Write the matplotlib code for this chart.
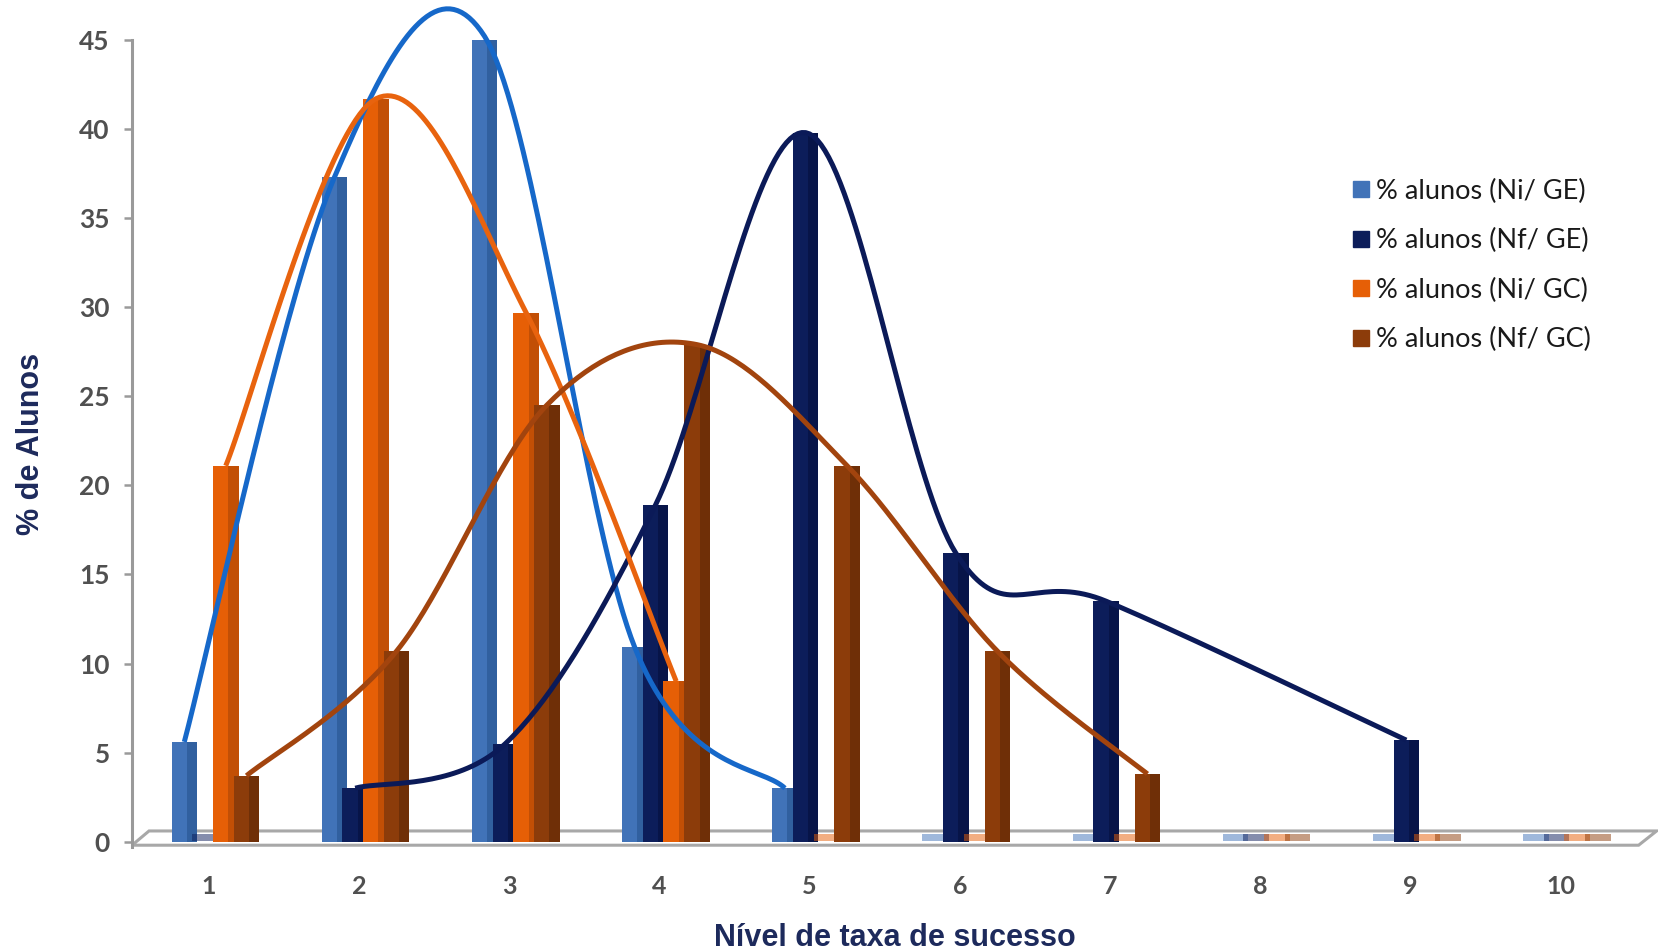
import numpy as np
import matplotlib
matplotlib.use("Agg")
import matplotlib.pyplot as plt
from matplotlib.lines import Line2D
from matplotlib.patches import Polygon

categories = [1, 2, 3, 4, 5, 6, 7, 8, 9, 10]
ni_ge = [5.6, 37.3, 45.2, 10.9, 3.0, 0, 0, 0, 0, 0]
nf_ge = [0, 3.0, 5.5, 18.9, 39.8, 16.2, 13.5, 0, 5.7, 0]
ni_gc = [21.1, 41.7, 29.7, 9.0, 0, 0, 0, 0, 0, 0]
nf_gc = [3.7, 10.7, 24.5, 27.9, 21.1, 10.7, 3.8, 0, 0, 0]
labels = ["% alunos (Ni/ GE)", "% alunos (Nf/ GE)", "% alunos (Ni/ GC)", "% alunos (Nf/ GC)"]
yticks = [0, 5, 10, 15, 20, 25, 30, 35, 40, 45]

series = [ni_ge, nf_ge, ni_gc, nf_gc]
front = ["#4173b8", "#0c1d5a", "#e65f06", "#8c3c0a"]
side = ["#31609f", "#071448", "#c24f05", "#6f2f07"]
line_col = ["#1668c9", "#0b1a58", "#e8630e", "#a2440e"]
offsets = [-0.165, -0.027, 0.111, 0.249]
W = 0.17


def excel_smooth(xs, ys, n=40):
    # bezier smoothing like the office "smoothed line" option
    p = np.column_stack([xs, ys]).astype(float)
    segs = []
    t = np.linspace(0, 1, n)[:, None]
    for i in range(len(p) - 1):
        p0 = p[i - 1] if i > 0 else p[i]
        p1, p2 = p[i], p[i + 1]
        p3 = p[i + 2] if i + 2 < len(p) else p[i + 1]
        c1 = p1 + (p2 - p0) / 6
        c2 = p2 - (p3 - p1) / 6
        segs.append((1 - t) ** 3 * p1 + 3 * (1 - t) ** 2 * t * c1
                    + 3 * (1 - t) * t ** 2 * c2 + t ** 3 * p2)
    return np.vstack(segs)


plt.rcParams['font.family'] = ['Lato', 'DejaVu Sans']
fig = plt.figure(figsize=(16.61, 9.52), dpi=100)
ax = fig.add_axes([0.0795, 0.1103, 0.9185, 0.8477])

x = np.array(categories, dtype=float)

# floor of the 3d plot
floor = Polygon([[0.487, -0.2], [0.60, 0.6], [10.64, 0.6], [10.52, -0.2]],
                closed=True, facecolor="white", edgecolor="#a8a8a8", lw=2.2, zorder=1)
ax.add_patch(floor)

for k, vals in enumerate(series):
    v = np.array(vals, dtype=float)
    pos = x + offsets[k]
    nz = v > 0
    # zero values show as flat tiles on the floor
    ax.bar(pos[~nz], np.full((~nz).sum(), 0.4), bottom=0.05, width=W,
           color=front[k], alpha=0.5, zorder=2 + k * 0.1)
    ax.bar(pos[nz], v[nz], width=W, color=front[k], zorder=2 + k * 0.1)
    ax.bar(pos[nz] + W / 2, v[nz], width=-0.4 * W, align='edge',
           color=side[k], zorder=2 + k * 0.1 + 0.01)

for k, vals in enumerate(series):
    v = np.array(vals, dtype=float)
    pos = x + offsets[k]
    nz = v > 0
    c = excel_smooth(pos[nz], v[nz])
    ax.plot(c[:, 0], c[:, 1], color=line_col[k], lw=3.6, zorder=5,
            clip_on=False, solid_capstyle='butt')

ax.set_xlim(0.487, 10.647)
ax.set_ylim(-0.3, 45)
for s in ["top", "right", "bottom"]:
    ax.spines[s].set_visible(False)
ax.spines["left"].set_color("#9a9a9a")
ax.spines["left"].set_linewidth(2.2)
ax.spines["left"].set_bounds(-0.3, 45)

ax.set_yticks(yticks)
ax.set_yticklabels([str(t) for t in yticks])
ax.tick_params(axis="y", length=6, width=1.8, color="#9a9a9a", pad=10,
               labelsize=19, labelcolor="#505050")
ax.set_xticks(categories)
ax.set_xticklabels([str(c) for c in categories])
ax.tick_params(axis="x", length=0, pad=20, labelsize=18, labelcolor="#505050")
for t in ax.get_xticklabels() + ax.get_yticklabels():
    t.set_fontweight("bold")

ax.set_xlabel("Nível de taxa de sucesso", fontsize=22, fontweight="bold",
              color="#1d2a5c", family=["Liberation Sans", "DejaVu Sans"], labelpad=18)
ax.set_ylabel("% de Alunos", fontsize=22, fontweight="bold", color="#1d2a5c",
              family=["Liberation Sans", "DejaVu Sans"], labelpad=24)

handles = [Line2D([], [], marker="s", ls="", markersize=11, color=front[k])
           for k in range(4)]
fig.legend(handles, labels, loc="upper left", bbox_to_anchor=(0.800, 0.838),
           frameon=False, fontsize=19.5, labelspacing=0.9, handlelength=0.6,
           handletextpad=0.25, labelcolor="#1a1a1a")

fig.savefig("out.png", dpi=100)
